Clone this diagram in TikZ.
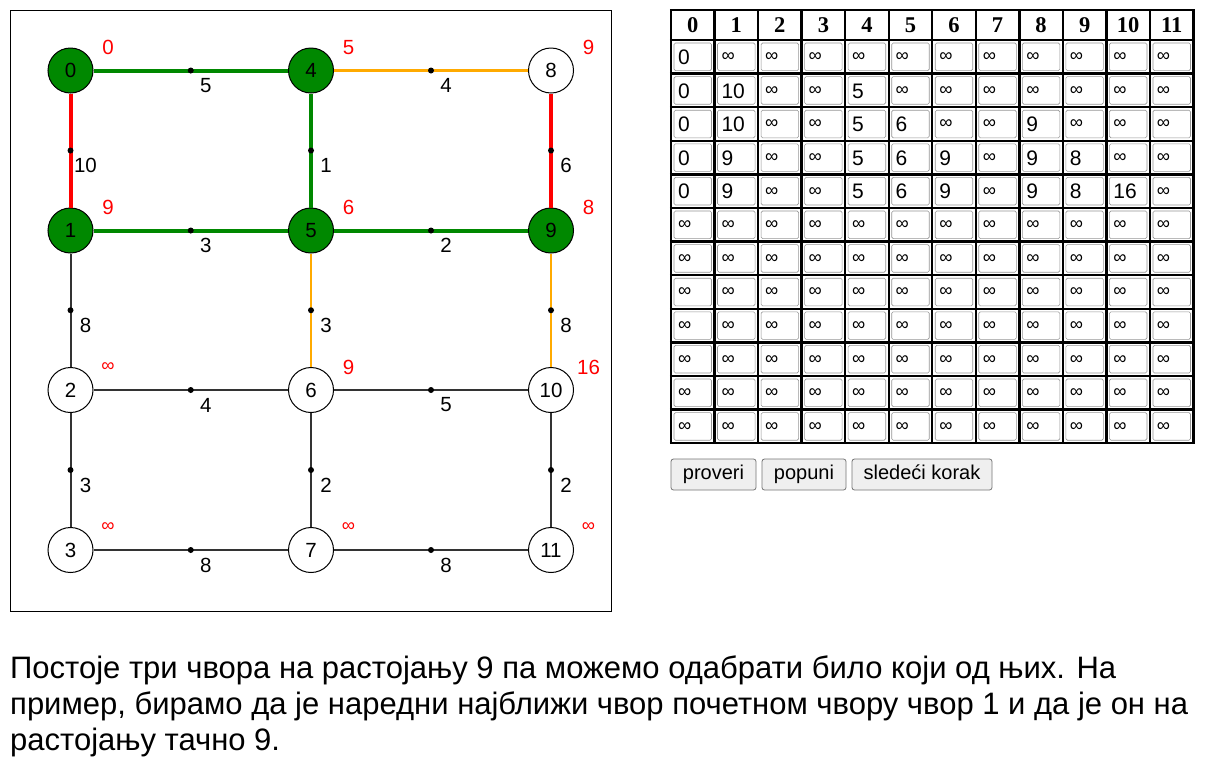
\documentclass[tikz,border=0pt]{standalone}
\usepackage{fontspec}
\setmainfont{Liberation Sans}
\newfontfamily\hdrfont{Liberation Serif}
\usetikzlibrary{calc}
\definecolor{ggreen}{RGB}{0,136,0}
\definecolor{eorange}{RGB}{255,170,0}
\definecolor{edgegray}{RGB}{51,51,51}
\definecolor{btnfill}{RGB}{239,239,239}
\definecolor{btnline}{RGB}{118,118,118}
\definecolor{inline}{RGB}{150,150,150}
\newcommand\infs{{\fontsize{18.5}{20}\selectfont ∞}}
\newcommand\gedge[4]{\draw[#3] (#1) -- node[dotn]{} node[wlab]{#4} (#2);}
\begin{document}
\begin{tikzpicture}[x=1pt,y=-1pt,
  vert/.style={circle,draw=black,line width=1pt,minimum size=45pt,inner sep=0pt,font=\fontsize{20.5}{22}\selectfont},
  gv/.style={vert,fill=ggreen},
  wv/.style={vert,fill=white},
  gE/.style={draw=ggreen,line width=4pt},
  rE/.style={draw=red,line width=4pt},
  oE/.style={draw=eorange,line width=2.7pt},
  kE/.style={draw=edgegray,line width=2pt},
  dotn/.style={circle,fill=black,minimum size=6pt,inner sep=0pt},
  wlab/.style={xshift=15pt,yshift=-15pt,inner sep=0pt,text=black,font=\fontsize{20.5}{22}\selectfont},
  dlab/.style={inner sep=0pt,text=red,font=\fontsize{20.5}{22}\selectfont},
  hdr/.style={inner sep=0pt,font=\fontsize{22.5}{24}\hdrfont\bfseries},
  cell/.style={anchor=west,inner sep=0pt,font=\fontsize{21}{23}\selectfont},
  inbox/.style={draw=inline,line width=0.6pt,rounded corners=1.5pt},
  btn/.style={draw=btnline,fill=btnfill,line width=0.8pt,rounded corners=2.5pt,minimum height=31pt,inner sep=0pt,text height=14pt,text depth=4pt,font=\fontsize{20}{22}\selectfont},
  txt/.style={anchor=base west,inner sep=0pt,font=\fontsize{31}{36}\selectfont},
]
\useasboundingbox (0,0) rectangle (1210,780);
\fill[white] (0,0) rectangle (1210,780);
% graph frame
\draw[line width=1pt] (10,10) rectangle (611,611);
% vertices
\node[gv] (n0) at (70.5,70.5) {0};
\node[gv] (n1) at (70.5,230.5) {1};
\node[wv] (n2) at (70.5,390) {2};
\node[wv] (n3) at (70.5,550) {3};
\node[gv] (n4) at (311,70.5) {4};
\node[gv] (n5) at (311,230.5) {5};
\node[wv] (n6) at (311,390) {6};
\node[wv] (n7) at (311,550) {7};
\node[wv] (n8) at (551,70.5) {8};
\node[gv] (n9) at (551,230.5) {9};
\node[wv] (n10) at (551,390) {10};
\node[wv] (n11) at (551,550) {11};
% edges
\gedge{n0}{n4}{gE}{5}
\gedge{n0}{n1}{rE}{10}
\gedge{n4}{n8}{oE}{4}
\gedge{n4}{n5}{gE}{1}
\gedge{n8}{n9}{rE}{6}
\gedge{n1}{n5}{gE}{3}
\gedge{n5}{n9}{gE}{2}
\gedge{n1}{n2}{kE}{8}
\gedge{n5}{n6}{oE}{3}
\gedge{n9}{n10}{oE}{8}
\gedge{n2}{n6}{kE}{4}
\gedge{n6}{n10}{kE}{5}
\gedge{n2}{n3}{kE}{3}
\gedge{n6}{n7}{kE}{2}
\gedge{n10}{n11}{kE}{2}
\gedge{n3}{n7}{kE}{8}
\gedge{n7}{n11}{kE}{8}
% distance labels
\node[dlab] (d0) at ([xshift=37.5pt,yshift=23pt]n0) {0};
\node[dlab] (d1) at ([xshift=37.5pt,yshift=23pt]n1) {9};
\node[dlab] (d2) at ([xshift=37.5pt,yshift=23pt]n2) {\infs};
\node[dlab] (d3) at ([xshift=37.5pt,yshift=23pt]n3) {\infs};
\node[dlab] (d4) at ([xshift=37.5pt,yshift=23pt]n4) {5};
\node[dlab] (d5) at ([xshift=37.5pt,yshift=23pt]n5) {6};
\node[dlab] (d6) at ([xshift=37.5pt,yshift=23pt]n6) {9};
\node[dlab] (d7) at ([xshift=37.5pt,yshift=23pt]n7) {\infs};
\node[dlab] (d8) at ([xshift=37.5pt,yshift=23pt]n8) {9};
\node[dlab] (d9) at ([xshift=37.5pt,yshift=23pt]n9) {8};
\node[dlab] (d10) at ([xshift=37.5pt,yshift=23pt]n10) {16};
\node[dlab] (d11) at ([xshift=37.5pt,yshift=23pt]n11) {\infs};
% table
\def\cw{43.54}\def\rh{33.6}
\foreach \r in {0,...,11} \foreach \c in {0,...,11}
  \draw[inbox] ({671+\c*\cw+3},{40+\r*\rh+3}) rectangle ++({\cw-6},{\rh-6});
\foreach \c in {0,...,12} \draw[line width=2.4pt] ({671+\c*\cw},10) -- ({671+\c*\cw},443.2);
\draw[line width=2.4pt] (669.8,10) -- (1194.7,10);
\foreach \r in {0,...,12} \draw[line width=2.4pt] (669.8,{40+\r*\rh}) -- (1194.7,{40+\r*\rh});
\foreach \c in {0,...,11} \node[hdr] (h\c) at ({671+(\c+0.5)*\cw},25.5) {\c};
\foreach \row [count=\r from 0] in {
  {0,\infs,\infs,\infs,\infs,\infs,\infs,\infs,\infs,\infs,\infs,\infs},
  {0,10,\infs,\infs,5,\infs,\infs,\infs,\infs,\infs,\infs,\infs},
  {0,10,\infs,\infs,5,6,\infs,\infs,9,\infs,\infs,\infs},
  {0,9,\infs,\infs,5,6,9,\infs,9,8,\infs,\infs},
  {0,9,\infs,\infs,5,6,9,\infs,9,8,16,\infs}}
  { \foreach \v [count=\c from 0] in \row
    { \node[cell] (c\r-\c) at ({671+\c*\cw+6.8},{40+(\r+0.5)*\rh+0.5}) {\v}; } }
\foreach \r in {5,...,11} \foreach \c in {0,...,11}
  \node[cell] (c\r-\c) at ({671+\c*\cw+6.8},{40+(\r+0.5)*\rh+0.5}) {\infs};
% buttons
\node[btn,minimum width=85pt] (b1) at (713.5,474.5) {proveri};
\node[btn,minimum width=84pt] (b2) at (804,474.5) {popuni};
\node[btn,minimum width=140pt] (b3) at (922,474.5) {sledeći korak};
% text
\node[txt] (t1) at (10,678) {Постоје три чвора на растојању 9 па можемо одабрати било који од њих. На};
\node[txt] (t2) at (10,714) {пример, бирамо да је наредни најближи чвор почетном чвору чвор 1 и да је он на};
\node[txt] (t3) at (10,750) {растојању тачно 9.};
\end{tikzpicture}
\end{document}
